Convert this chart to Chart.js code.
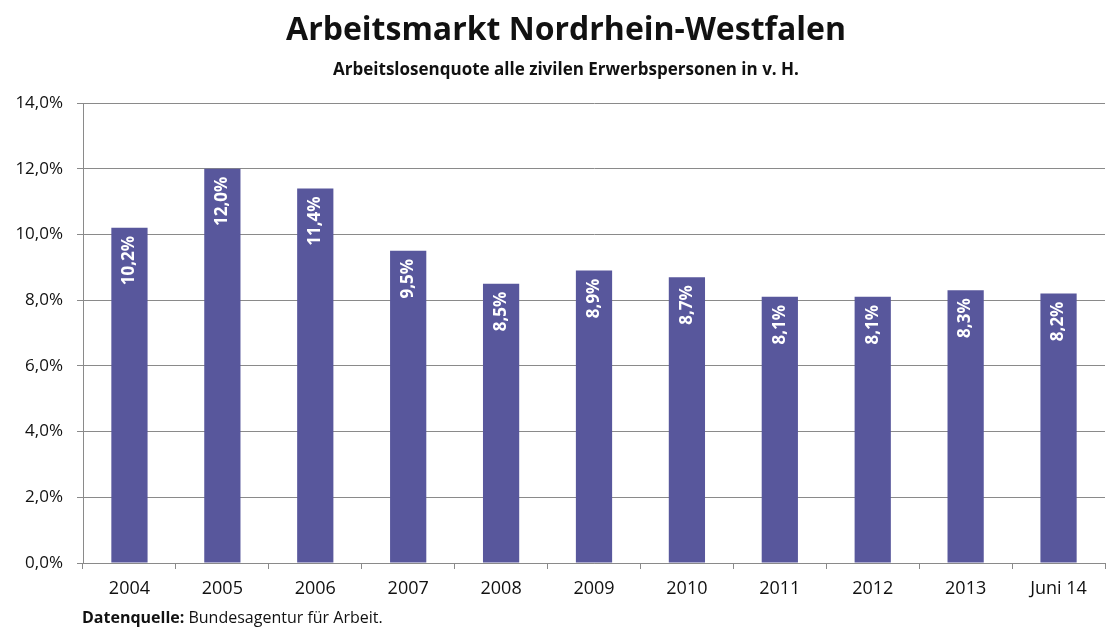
<!DOCTYPE html>
<html>
<head>
<meta charset="utf-8">
<script src="https://cdn.jsdelivr.net/npm/chart.js@4/dist/chart.umd.min.js"></script>
<style>
  html, body { margin: 0; padding: 0; background: #fff; }
  #wrap { width: 1106px; height: 632px; position: relative; }
</style>
</head>
<body>
<div id="wrap"><canvas id="chart" width="1106" height="632"></canvas></div>
<script>
// Data
const years = ["2004", "2005", "2006", "2007", "2008", "2009", "2010", "2011", "2012", "2013", "Juni 14"];
const quote = [10.2, 12.0, 11.4, 9.5, 8.5, 8.9, 8.7, 8.1, 8.1, 8.3, 8.2];
const yTicks = [0, 2, 4, 6, 8, 10, 12, 14];

const titleText = "Arbeitsmarkt Nordrhein-Westfalen";
const subtitleText = "Arbeitslosenquote alle zivilen Erwerbspersonen in v. H.";
const fontFamily = "'Open Sans', 'Noto Sans', sans-serif";

const fmt = v => v.toFixed(1).replace(".", ",") + "%";

// Titles and source line drawn on the canvas
const textPlugin = {
    id: "texts",
    afterDraw(chart) {
        const ctx = chart.ctx;
        ctx.save();
        ctx.fillStyle = "#111";
        ctx.textAlign = "center";
        ctx.textBaseline = "middle";
        ctx.font = "bold 32px " + fontFamily;
        ctx.fillText(titleText, 566, 31);
        ctx.font = "bold 17px " + fontFamily;
        ctx.fillText(subtitleText, 566, 70);

        ctx.textAlign = "left";
        ctx.font = "bold 16px " + fontFamily;
        const lead = "Datenquelle:";
        ctx.fillText(lead, 82, 618);
        const w = ctx.measureText(lead + " ").width;
        ctx.font = "16px " + fontFamily;
        ctx.fillText("Bundesagentur für Arbeit.", 82 + w, 618);
        ctx.restore();
    }
};

// Rotated value labels inside the top of each bar
const barLabels = {
    id: "barLabels",
    afterDatasetsDraw(chart) {
        const ctx = chart.ctx;
        const meta = chart.getDatasetMeta(0);
        ctx.save();
        ctx.fillStyle = "#fff";
        ctx.font = "bold 17px " + fontFamily;
        ctx.textAlign = "right";
        ctx.textBaseline = "middle";
        meta.data.forEach((bar, i) => {
            ctx.save();
            ctx.translate(bar.x, bar.y + 8);
            ctx.rotate(-Math.PI / 2);
            ctx.fillText(fmt(quote[i]), 0, 0);
            ctx.restore();
        });
        ctx.restore();
    }
};

const ctx = document.getElementById("chart").getContext("2d");

new Chart(ctx, {
    type: "bar",
    data: {
        labels: years,
        datasets: [{
            label: "Arbeitslosenquote",
            data: quote,
            backgroundColor: "#58579c",
            borderWidth: 0,
            barPercentage: 0.39,
            categoryPercentage: 1.0
        }]
    },
    options: {
        responsive: false,
        animation: false,
        layout: { padding: { top: 103, bottom: 19, left: 0, right: 1 } },
        plugins: {
            legend: { display: false },
            tooltip: { enabled: false }
        },
        scales: {
            x: {
                afterFit: s => { s.height = 50; },
                grid: { display: true, drawOnChartArea: false, tickLength: 6, color: "#8a8a8a", offset: true },
                border: { display: true, color: "#8a8a8a", width: 1 },
                ticks: { color: "#111", padding: 9, font: { family: fontFamily, size: 18 } }
            },
            y: {
                min: 0,
                max: 14,
                afterFit: s => { s.width = 83; },
                afterBuildTicks: s => { s.ticks = yTicks.map(v => ({ value: v })); },
                grid: { color: "#8a8a8a", tickLength: 6 },
                border: { display: true, color: "#8a8a8a", width: 1 },
                ticks: {
                    color: "#111",
                    padding: 14,
                    font: { family: fontFamily, size: 17 },
                    callback: v => fmt(v)
                }
            }
        }
    },
    plugins: [textPlugin, barLabels]
});
</script>
</body>
</html>
